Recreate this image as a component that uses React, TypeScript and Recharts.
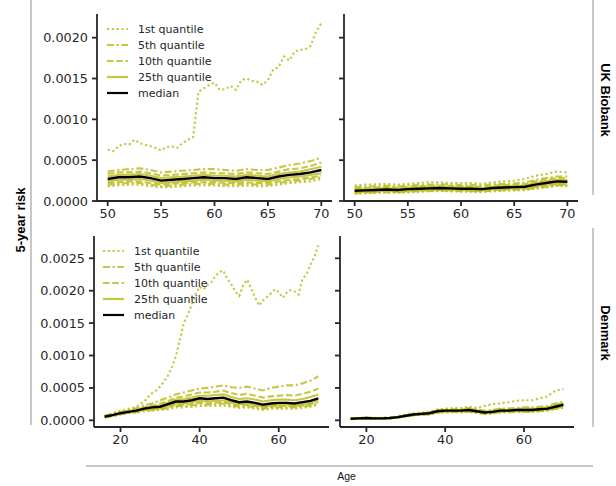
import React from 'react'
import { LineChart, Line, XAxis, YAxis, Legend } from 'recharts'

// ages (x values)
const ukAges = [50, 51, 52, 53, 54, 55, 56, 57, 58, 59, 60, 61, 62, 63, 64, 65, 66, 67, 68, 69, 70]
const ukAgesFine = [
  50, 50.5, 51, 51.5, 52, 52.5, 53, 53.5, 54, 54.5, 55, 55.5, 56, 56.5, 57, 57.5, 58, 58.5, 59, 59.5, 60,
  60.5, 61, 61.5, 62, 62.5, 63, 63.5, 64, 64.5, 65, 65.5, 66, 66.5, 67, 67.5, 68, 68.5, 69, 69.5, 70,
]
const dkAges = [16, 18, 20, 22, 24, 26, 28, 30, 32, 34, 36, 38, 40, 42, 44, 46, 48, 50, 52, 54, 56, 58, 60, 62, 64, 66, 68, 70]
const dkAgesFine = [
  16, 17, 18, 19, 20, 21, 22, 23, 24, 25, 26, 27, 28, 29, 30, 31, 32, 33, 34, 35, 36, 37, 38, 39, 40, 41, 42, 43,
  44, 45, 46, 47, 48, 49, 50, 51, 52, 53, 54, 55, 56, 57, 58, 59, 60, 61, 62, 63, 64, 65, 66, 67, 68, 69, 70,
]

// UK Biobank - left panel
const ukLeftQ01 = [
  0.00063, 0.00061, 0.00067, 0.0007, 0.00069, 0.00075, 0.00071, 0.00069, 0.00067, 0.00065, 0.00062, 0.00066, 0.00067,
  0.00065, 0.00071, 0.00075, 0.00078, 0.00134, 0.00138, 0.00142, 0.00145, 0.00136, 0.00137, 0.00141, 0.00136, 0.00148,
  0.0015, 0.00147, 0.00146, 0.00142, 0.00148, 0.00161, 0.00164, 0.00177, 0.00172, 0.00183, 0.00185, 0.00186, 0.0019,
  0.00207, 0.00218,
]
const ukLeftQ05 = [0.00036, 0.00038, 0.00039, 0.0004, 0.00038, 0.00035, 0.00036, 0.00037, 0.00038, 0.00039, 0.00039, 0.00038, 0.00037, 0.00039, 0.00038, 0.00038, 0.00041, 0.00044, 0.00046, 0.00049, 0.00053]
const ukLeftQ10 = [0.00033, 0.00035, 0.00035, 0.00036, 0.00034, 0.00031, 0.00032, 0.00033, 0.00034, 0.00035, 0.00034, 0.00034, 0.00033, 0.00035, 0.00034, 0.00033, 0.00036, 0.00039, 0.0004, 0.00043, 0.00047]
const ukLeftQ25 = [0.0003, 0.00032, 0.00032, 0.00033, 0.00031, 0.00028, 0.00029, 0.0003, 0.00031, 0.00032, 0.00031, 0.00031, 0.0003, 0.00032, 0.00031, 0.0003, 0.00033, 0.00035, 0.00036, 0.00039, 0.00042]
const ukLeftMedian = [0.00027, 0.00029, 0.00029, 0.0003, 0.00028, 0.00025, 0.00026, 0.00027, 0.00028, 0.00029, 0.00028, 0.00028, 0.00027, 0.00029, 0.00028, 0.00027, 0.0003, 0.00032, 0.00033, 0.00035, 0.00038]
const ukLeftQ75 = [0.00024, 0.00026, 0.00026, 0.00027, 0.00025, 0.00022, 0.00023, 0.00024, 0.00025, 0.00026, 0.00025, 0.00025, 0.00024, 0.00026, 0.00025, 0.00024, 0.00027, 0.00029, 0.0003, 0.00032, 0.00034]
const ukLeftQ90 = [0.00022, 0.00023, 0.00024, 0.00024, 0.00022, 0.0002, 0.00021, 0.00022, 0.00023, 0.00023, 0.00023, 0.00022, 0.00022, 0.00023, 0.00022, 0.00022, 0.00024, 0.00026, 0.00027, 0.00029, 0.00031]
const ukLeftQ95 = [0.0002, 0.00021, 0.00022, 0.00022, 0.0002, 0.00018, 0.00019, 0.0002, 0.00021, 0.00021, 0.00021, 0.0002, 0.0002, 0.00021, 0.0002, 0.0002, 0.00022, 0.00024, 0.00025, 0.00027, 0.00029]
const ukLeftQ99 = [0.00018, 0.00019, 0.0002, 0.0002, 0.00018, 0.00017, 0.00017, 0.00018, 0.00019, 0.00019, 0.00019, 0.00018, 0.00018, 0.00019, 0.00018, 0.00018, 0.0002, 0.00022, 0.00023, 0.00024, 0.00027]

// UK Biobank - right panel
const ukRightQ01 = [0.00019, 0.0002, 0.000205, 0.00021, 0.0002, 0.00021, 0.00022, 0.00023, 0.00023, 0.00022, 0.00022, 0.00022, 0.00021, 0.00023, 0.00024, 0.00025, 0.00027, 0.00031, 0.00033, 0.00036, 0.00035]
const ukRightQ05 = [0.00017, 0.000175, 0.00018, 0.000185, 0.00018, 0.00019, 0.000195, 0.0002, 0.000205, 0.0002, 0.000195, 0.000195, 0.00019, 0.000205, 0.00021, 0.000215, 0.000225, 0.00026, 0.00028, 0.0003, 0.0003]
const ukRightQ10 = [0.000155, 0.00016, 0.000165, 0.00017, 0.000165, 0.000175, 0.00018, 0.000185, 0.00019, 0.000185, 0.00018, 0.00018, 0.000175, 0.00019, 0.000195, 0.0002, 0.000205, 0.00024, 0.00026, 0.00028, 0.00028]
const ukRightQ25 = [0.00014, 0.000145, 0.00015, 0.000155, 0.00015, 0.00016, 0.000165, 0.00017, 0.000175, 0.00017, 0.000165, 0.000165, 0.00016, 0.000175, 0.00018, 0.000185, 0.00019, 0.00022, 0.00024, 0.00026, 0.000255]
const ukRightMedian = [0.000125, 0.00013, 0.000135, 0.00014, 0.000135, 0.000145, 0.00015, 0.000155, 0.00016, 0.000155, 0.00015, 0.00015, 0.000145, 0.00016, 0.000165, 0.00017, 0.000175, 0.0002, 0.00022, 0.00024, 0.000235]
const ukRightQ75 = [0.00011, 0.000115, 0.00012, 0.000125, 0.00012, 0.00013, 0.000135, 0.00014, 0.000145, 0.00014, 0.000135, 0.000135, 0.00013, 0.000145, 0.00015, 0.000155, 0.00016, 0.00018, 0.0002, 0.00022, 0.000215]
const ukRightQ90 = [0.0001, 0.000105, 0.00011, 0.000115, 0.00011, 0.00012, 0.000125, 0.00013, 0.000135, 0.00013, 0.000125, 0.000125, 0.00012, 0.000135, 0.00014, 0.000145, 0.000148, 0.00017, 0.000185, 0.000205, 0.0002]
const ukRightQ95 = [0.000095, 0.0001, 0.000105, 0.00011, 0.000105, 0.000112, 0.00012, 0.000125, 0.00013, 0.000125, 0.00012, 0.00012, 0.000115, 0.000128, 0.000133, 0.000138, 0.00014, 0.00016, 0.000175, 0.000195, 0.00019]
const ukRightQ99 = [0.00009, 0.000094, 0.0001, 0.000104, 0.0001, 0.000106, 0.000112, 0.000118, 0.000123, 0.000118, 0.000113, 0.000113, 0.000108, 0.00012, 0.000125, 0.00013, 0.000132, 0.00015, 0.000165, 0.000185, 0.00018]

// Denmark - left panel
const dkLeftQ01 = [
  0.00007, 0.00009, 0.00011, 0.00013, 0.00015, 0.00016, 0.00018, 0.00019, 0.00021, 0.00025, 0.00029, 0.00036, 0.00042,
  0.00046, 0.00052, 0.0006, 0.00069, 0.00082, 0.00099, 0.00124, 0.0015, 0.00163, 0.00178, 0.00195, 0.00206, 0.00202,
  0.00209, 0.00213, 0.00223, 0.00229, 0.00231, 0.00218, 0.0021, 0.00199, 0.00192, 0.00208, 0.00217, 0.00204, 0.0019,
  0.00177, 0.00185, 0.0019, 0.00196, 0.00202, 0.00198, 0.00189, 0.00197, 0.00201, 0.00199, 0.00194, 0.00218, 0.00225,
  0.0024, 0.00252, 0.0027,
]
const dkLeftQ05 = [0.00007, 0.0001, 0.00013, 0.00016, 0.00019, 0.00023, 0.00026, 0.00031, 0.00035, 0.0004, 0.00043, 0.00046, 0.00049, 0.0005, 0.00052, 0.00054, 0.00051, 0.0005, 0.00052, 0.00049, 0.00046, 0.0005, 0.00052, 0.00054, 0.00054, 0.00057, 0.00061, 0.00068]
const dkLeftQ10 = [0.00006, 0.00009, 0.00012, 0.00015, 0.00017, 0.0002, 0.00023, 0.00026, 0.0003, 0.00035, 0.00037, 0.0004, 0.00043, 0.00043, 0.00044, 0.00046, 0.00042, 0.00039, 0.00041, 0.00038, 0.00035, 0.00037, 0.00038, 0.00039, 0.00038, 0.00041, 0.00044, 0.00049]
const dkLeftQ25 = [0.000057, 0.000085, 0.000115, 0.00014, 0.00016, 0.00019, 0.00021, 0.00023, 0.00027, 0.00032, 0.00033, 0.00035, 0.00038, 0.00038, 0.00039, 0.0004, 0.00036, 0.00033, 0.00034, 0.00032, 0.00029, 0.00031, 0.00032, 0.00032, 0.00031, 0.00033, 0.00036, 0.0004]
const dkLeftMedian = [0.000055, 0.00008, 0.00011, 0.00013, 0.00015, 0.00018, 0.0002, 0.00021, 0.00025, 0.00029, 0.00029, 0.00031, 0.00034, 0.00033, 0.00034, 0.00035, 0.00031, 0.00028, 0.00029, 0.00027, 0.00024, 0.00026, 0.00027, 0.00027, 0.00026, 0.00028, 0.0003, 0.00034]
const dkLeftQ75 = [0.000053, 0.000075, 0.000105, 0.000125, 0.00014, 0.00017, 0.00018, 0.00019, 0.00022, 0.00026, 0.00026, 0.00028, 0.0003, 0.00029, 0.0003, 0.00031, 0.00027, 0.00025, 0.00026, 0.00024, 0.00021, 0.00023, 0.00024, 0.00024, 0.00023, 0.00025, 0.00027, 0.00031]
const dkLeftQ90 = [0.00005, 0.00007, 0.0001, 0.00012, 0.00013, 0.00016, 0.00017, 0.00018, 0.0002, 0.00024, 0.00024, 0.00025, 0.00027, 0.00026, 0.00027, 0.00028, 0.00025, 0.00023, 0.00024, 0.00022, 0.00019, 0.00021, 0.00022, 0.00022, 0.00021, 0.00023, 0.00025, 0.00028]
const dkLeftQ95 = [0.000048, 0.000068, 0.000095, 0.000115, 0.000125, 0.00015, 0.00016, 0.00017, 0.00019, 0.00022, 0.00022, 0.00023, 0.00025, 0.00024, 0.00025, 0.00026, 0.00023, 0.00021, 0.00022, 0.0002, 0.00018, 0.0002, 0.0002, 0.0002, 0.0002, 0.00021, 0.00023, 0.00026]
const dkLeftQ99 = [0.000045, 0.000065, 0.00009, 0.00011, 0.00012, 0.00014, 0.00015, 0.00016, 0.00017, 0.0002, 0.0002, 0.00021, 0.00022, 0.00022, 0.00022, 0.00023, 0.00021, 0.00019, 0.0002, 0.00018, 0.00016, 0.00018, 0.00018, 0.00018, 0.00018, 0.00019, 0.00021, 0.00024]

// Denmark - right panel
const dkRightQ01 = [0.00003, 0.000035, 0.00004, 0.00004, 0.00004, 0.000045, 0.00006, 0.00009, 0.00011, 0.00012, 0.00013, 0.00017, 0.00018, 0.00019, 0.00019, 0.00021, 0.00019, 0.00022, 0.00025, 0.00026, 0.00028, 0.0003, 0.00031, 0.00031, 0.00034, 0.00037, 0.00046, 0.00048]
const dkRightQ05 = [0.00003, 0.000035, 0.00004, 0.000035, 0.000035, 0.00004, 0.000055, 0.00008, 0.0001, 0.00011, 0.00012, 0.00016, 0.00017, 0.00017, 0.00017, 0.00019, 0.00017, 0.00015, 0.00016, 0.00018, 0.00018, 0.00019, 0.0002, 0.0002, 0.00021, 0.00022, 0.00026, 0.00029]
const dkRightQ10 = [0.000028, 0.000033, 0.000038, 0.000033, 0.000033, 0.000038, 0.000053, 0.000075, 0.000095, 0.000105, 0.000115, 0.00015, 0.00016, 0.00016, 0.00016, 0.00018, 0.00016, 0.00014, 0.00015, 0.00017, 0.00017, 0.00018, 0.00018, 0.00018, 0.00019, 0.0002, 0.00024, 0.00027]
const dkRightQ25 = [0.000027, 0.000032, 0.000037, 0.000032, 0.000032, 0.000037, 0.000052, 0.000073, 0.000093, 0.000104, 0.000115, 0.000147, 0.000158, 0.000158, 0.000158, 0.00017, 0.00015, 0.00013, 0.00014, 0.00016, 0.00016, 0.00017, 0.00017, 0.00017, 0.00018, 0.00019, 0.000225, 0.000255]
const dkRightMedian = [0.000025, 0.00003, 0.000035, 0.00003, 0.00003, 0.000035, 0.00005, 0.00007, 0.00009, 0.0001, 0.00011, 0.00014, 0.00015, 0.00015, 0.00015, 0.00016, 0.00014, 0.00012, 0.00013, 0.00015, 0.00015, 0.00016, 0.00016, 0.00016, 0.00017, 0.00018, 0.00021, 0.00024]
const dkRightQ75 = [0.000023, 0.000028, 0.000033, 0.000028, 0.000028, 0.000033, 0.000047, 0.000066, 0.000086, 0.000095, 0.000104, 0.000132, 0.000141, 0.000142, 0.000141, 0.000151, 0.000131, 0.000112, 0.000121, 0.00014, 0.00014, 0.00015, 0.00015, 0.00015, 0.00016, 0.00017, 0.000195, 0.000225]
const dkRightQ90 = [0.000021, 0.000026, 0.000031, 0.000026, 0.000026, 0.000031, 0.000044, 0.000062, 0.000082, 0.00009, 0.000098, 0.000125, 0.000133, 0.000134, 0.000133, 0.000142, 0.000123, 0.000105, 0.000114, 0.000132, 0.000132, 0.00014, 0.00014, 0.00014, 0.00015, 0.00016, 0.000185, 0.000212]
const dkRightQ95 = [0.00002, 0.000025, 0.00003, 0.000025, 0.000025, 0.00003, 0.000042, 0.00006, 0.00008, 0.000087, 0.000095, 0.000121, 0.000129, 0.00013, 0.000129, 0.000137, 0.000119, 0.000101, 0.00011, 0.000127, 0.000128, 0.000135, 0.000135, 0.000135, 0.000145, 0.000155, 0.00018, 0.000205]
const dkRightQ99 = [0.000018, 0.000023, 0.000028, 0.000023, 0.000023, 0.000028, 0.00004, 0.000057, 0.000076, 0.000083, 0.00009, 0.000115, 0.000123, 0.000124, 0.000123, 0.00013, 0.000113, 0.000096, 0.000105, 0.000121, 0.000122, 0.000128, 0.000128, 0.000128, 0.000138, 0.000148, 0.000172, 0.000195]

const ukXTicks = [50, 55, 60, 65, 70]
const dkXTicks = [20, 40, 60]
const ukYTicks = [0, 0.0005, 0.001, 0.0015, 0.002]
const dkYTicks = [0, 0.0005, 0.001, 0.0015, 0.002, 0.0025]
const legendLabels = ['1st quantile', '5th quantile', '10th quantile', '25th quantile', 'median']

const OLIVE = '#bcbd22'
const INK = '#262626'
const GRID_GRAY = '#b4b4b4'
const DOTTED = '2.2 2.6'
const DASHDOT = '7 2.6 2.2 2.6'
const DASHED = '6.5 2.8'

const legendStyles = [
  { color: OLIVE, dash: DOTTED },
  { color: OLIVE, dash: DASHDOT },
  { color: OLIVE, dash: DASHED },
  { color: OLIVE, dash: undefined },
  { color: '#000', dash: undefined },
]

type Series = { ages: number[]; values: number[]; dash?: string; median?: boolean }

const toPoints = (ages: number[], values: number[]) => ages.map((age, i) => ({ age, risk: values[i] }))

function buildSeries(fine: number[], coarse: number[], q: number[][]): Series[] {
  // q: [q01, q05, q10, q25, median, q75, q90, q95, q99]
  return [
    { ages: fine, values: q[0], dash: DOTTED },
    { ages: coarse, values: q[1], dash: DASHDOT },
    { ages: coarse, values: q[2], dash: DASHED },
    { ages: coarse, values: q[3] },
    { ages: coarse, values: q[5] },
    { ages: coarse, values: q[6], dash: DASHED },
    { ages: coarse, values: q[7], dash: DASHDOT },
    { ages: coarse, values: q[8], dash: DOTTED },
    { ages: coarse, values: q[4], median: true },
  ]
}

function QuantileLegend() {
  return (
    <svg width={130} height={84}>
      {legendLabels.map((label, i) => {
        const y = 9 + i * 16
        const st = legendStyles[i]
        return (
          <g key={label}>
            <line x1={3} x2={24} y1={y} y2={y} stroke={st.color} strokeOpacity={i < 4 ? 0.85 : 1} strokeWidth={2.2} strokeDasharray={st.dash} />
            <text x={34} y={y} dy="0.35em" fontSize={11} fontFamily="DejaVu Sans" fill={INK}>
              {label}
            </text>
          </g>
        )
      })}
    </svg>
  )
}

type PanelProps = {
  left: number
  top: number
  width: number
  margin: { top: number; right: number; bottom: number; left: number }
  yWidth: number
  xDomain: [number, number]
  yDomain: [number, number]
  xTicks: number[]
  yTicks: number[]
  series: Series[]
  yLabels: boolean
  legendAt?: { left: number; top: number }
}

const tickFont = { fontSize: 12.8, fill: INK, fontFamily: 'DejaVu Sans' }
const axisLine = { stroke: INK, strokeWidth: 1.8 }

function Panel(p: PanelProps) {
  return (
    <div style={{ position: 'absolute', left: p.left, top: p.top }}>
      <LineChart width={p.width} height={230} margin={p.margin}>
        <XAxis
          type="number"
          dataKey="age"
          domain={p.xDomain}
          ticks={p.xTicks}
          interval={0}
          allowDataOverflow
          height={25}
          tickSize={5}
          tickMargin={3}
          axisLine={axisLine}
          tickLine={axisLine}
          tick={tickFont}
        />
        <YAxis
          type="number"
          domain={p.yDomain}
          ticks={p.yTicks}
          interval={0}
          allowDataOverflow
          width={p.yWidth}
          tickSize={5}
          tickMargin={4}
          axisLine={axisLine}
          tickLine={axisLine}
          tick={tickFont}
          tickFormatter={(v: number) => (p.yLabels ? v.toFixed(4) : '')}
        />
        {p.series.map((s, i) => (
          <Line
            key={i}
            data={toPoints(s.ages, s.values)}
            dataKey="risk"
            type="linear"
            dot={false}
            activeDot={false}
            stroke={s.median ? '#000' : OLIVE}
            strokeOpacity={s.median ? 1 : 0.85}
            strokeWidth={s.median ? 2.4 : 2.1}
            strokeDasharray={s.dash}
            isAnimationActive={false}
          />
        ))}
        {p.legendAt && (
          <Legend
            layout="vertical"
            align="center"
            verticalAlign="middle"
            content={() => <QuantileLegend />}
            wrapperStyle={{ left: p.legendAt.left, top: p.legendAt.top, width: 130, height: 84 }}
          />
        )}
      </LineChart>
    </div>
  )
}

export default function App() {
  const ukLeft = buildSeries(ukAgesFine, ukAges, [ukLeftQ01, ukLeftQ05, ukLeftQ10, ukLeftQ25, ukLeftMedian, ukLeftQ75, ukLeftQ90, ukLeftQ95, ukLeftQ99])
  const ukRight = buildSeries(ukAges, ukAges, [ukRightQ01, ukRightQ05, ukRightQ10, ukRightQ25, ukRightMedian, ukRightQ75, ukRightQ90, ukRightQ95, ukRightQ99])
  const dkLeft = buildSeries(dkAgesFine, dkAges, [dkLeftQ01, dkLeftQ05, dkLeftQ10, dkLeftQ25, dkLeftMedian, dkLeftQ75, dkLeftQ90, dkLeftQ95, dkLeftQ99])
  const dkRight = buildSeries(dkAges, dkAges, [dkRightQ01, dkRightQ05, dkRightQ10, dkRightQ25, dkRightMedian, dkRightQ75, dkRightQ90, dkRightQ95, dkRightQ99])

  const ukY: [number, number] = [0, 0.00229]
  const dkY: [number, number] = [-0.000103, 0.002844]

  return (
    <div style={{ position: 'absolute', left: 0, top: 0, width: 616, height: 486, background: '#fff', overflow: 'hidden' }}>
      <svg width={616} height={486} style={{ position: 'absolute', left: 0, top: 0 }}>
        <line x1={31} x2={31} y1={0} y2={425} stroke={GRID_GRAY} strokeWidth={1.5} />
        <line x1={86} x2={593} y1={466} y2={466} stroke={GRID_GRAY} strokeWidth={1.5} />
        <line x1={593} x2={593} y1={0} y2={195} stroke={GRID_GRAY} strokeWidth={1.5} />
        <line x1={593} x2={593} y1={228} y2={427} stroke={GRID_GRAY} strokeWidth={1.5} />
        <text x={20} y={220} transform="rotate(-90 20 220)" textAnchor="middle" dominantBaseline="central" fontFamily="Liberation Sans, Arial" fontWeight="bold" fontSize={13} fill="#000">
          5-year risk
        </text>
        <text x={605} y={100} transform="rotate(90 605 100)" textAnchor="middle" dominantBaseline="central" fontFamily="Liberation Sans, Arial" fontWeight="bold" fontSize={13} fill="#000">
          UK Biobank
        </text>
        <text x={605} y={333} transform="rotate(90 605 333)" textAnchor="middle" dominantBaseline="central" fontFamily="Liberation Sans, Arial" fontWeight="bold" fontSize={13} fill="#000">
          Denmark
        </text>
        <text x={346.5} y={476} textAnchor="middle" dominantBaseline="central" fontFamily="Liberation Sans, Arial" fontSize={10.5} fill="#111">
          Age
        </text>
      </svg>

      <Panel left={0} top={0} width={340} margin={{ top: 14, right: 8, bottom: 4, left: 0 }} yWidth={97} xDomain={[49, 71]} yDomain={ukY} xTicks={ukXTicks} yTicks={ukYTicks} series={ukLeft} yLabels legendAt={{ left: 104, top: 20 }} />
      <Panel left={300} top={0} width={290} margin={{ top: 14, right: 12, bottom: 4, left: 0 }} yWidth={44} xDomain={[49, 71]} yDomain={ukY} xTicks={ukXTicks} yTicks={ukYTicks} series={ukRight} yLabels={false} />
      <Panel left={0} top={230} width={340} margin={{ top: 6, right: 11, bottom: 8, left: 0 }} yWidth={94} xDomain={[13.3, 72.7]} yDomain={dkY} xTicks={dkXTicks} yTicks={dkYTicks} series={dkLeft} yLabels legendAt={{ left: 100, top: 12 }} />
      <Panel left={300} top={230} width={290} margin={{ top: 6, right: 16, bottom: 8, left: 0 }} yWidth={40} xDomain={[13.3, 72.7]} yDomain={dkY} xTicks={dkXTicks} yTicks={dkYTicks} series={dkRight} yLabels={false} />
    </div>
  )
}
